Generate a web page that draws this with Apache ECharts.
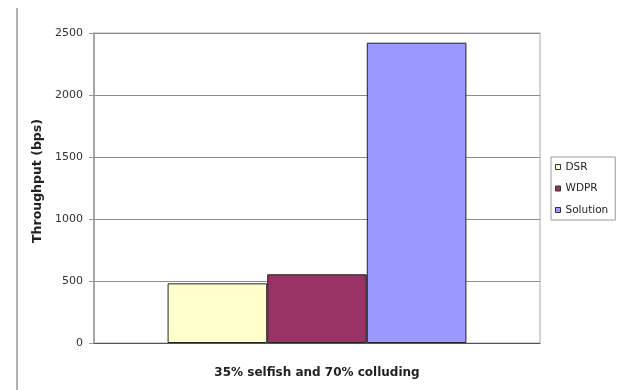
<!DOCTYPE html>
<html>
<head>
<meta charset="utf-8">
<script src="https://cdn.jsdelivr.net/npm/echarts@6/dist/echarts.min.js"></script>
<style>
  html, body { margin: 0; padding: 0; background: #fff; }
  #chart { width: 621px; height: 390px; }
</style>
</head>
<body>
<div id="chart"></div>
<script>
// Throughput per routing scheme in one attack scenario
const categories = ['35% selfish and 70% colluding'];
const seriesNames = ['DSR', 'WDPR', 'Solution'];
const dsrValues = [481];
const wdprValues = [554];
const solutionValues = [2422];
const yTicks = [0, 500, 1000, 1500, 2000, 2500];

const colors = ['#FFFFCC', '#993366', '#9999FF'];
const valueSets = [dsrValues, wdprValues, solutionValues];

const chart = echarts.init(document.getElementById('chart'), null, { renderer: 'canvas' });

const font = '"DejaVu Sans", Verdana, sans-serif';

chart.setOption({
  animation: false,
  backgroundColor: '#ffffff',
  textStyle: { fontFamily: font },
  grid: {
    left: 94, right: 81, top: 33, bottom: 47,
    show: true, borderColor: '#a8a8a8', borderWidth: 1, backgroundColor: 'transparent'
  },
  graphic: [
    {
      type: 'line',
      shape: { x1: 17, y1: 8, x2: 17, y2: 390 },
      style: { stroke: '#b0b0b0', lineWidth: 2 }
    }
  ],
  legend: {
    orient: 'vertical',
    left: 551, top: 157,
    padding: [3.5, 7, 3.5, 4],
    backgroundColor: '#fff',
    borderColor: '#9a9a9a',
    borderWidth: 1,
    itemWidth: 5, itemHeight: 5,
    itemGap: 8.5,
    icon: 'rect',
    itemStyle: { borderColor: '#333', borderWidth: 1 },
    textStyle: { fontSize: 10.5, color: '#222', fontFamily: font, lineHeight: 13 },
    data: seriesNames
  },
  xAxis: {
    type: 'category',
    data: categories,
    axisLine: { lineStyle: { color: '#555', width: 1 } },
    axisTick: { show: false },
    axisLabel: { fontSize: 12, fontWeight: 'bold', color: '#222', margin: 24 }
  },
  yAxis: {
    type: 'value',
    min: yTicks[0], max: yTicks[yTicks.length - 1], interval: 500,
    name: 'Throughput (bps)',
    nameLocation: 'middle',
    nameGap: 48,
    nameTextStyle: { fontSize: 12.5, fontWeight: 'bold', color: '#222', padding: [0, 0, 0, 14] },
    axisLine: { show: true, lineStyle: { color: '#9a9a9a', width: 1.5 } },
    axisTick: { show: true, length: 5, lineStyle: { color: '#9a9a9a' } },
    axisLabel: { fontSize: 11, color: '#333', margin: 11, formatter: v => String(v) },
    splitLine: { show: true, lineStyle: { color: '#8c8c8c', width: 1 } }
  },
  series: seriesNames.map((name, i) => ({
    name: name,
    type: 'bar',
    data: valueSets[i],
    barGap: '0%',
    barCategoryGap: '33%',
    itemStyle: { color: colors[i], borderColor: '#222', borderWidth: 1 }
  }))
});
</script>
</body>
</html>
